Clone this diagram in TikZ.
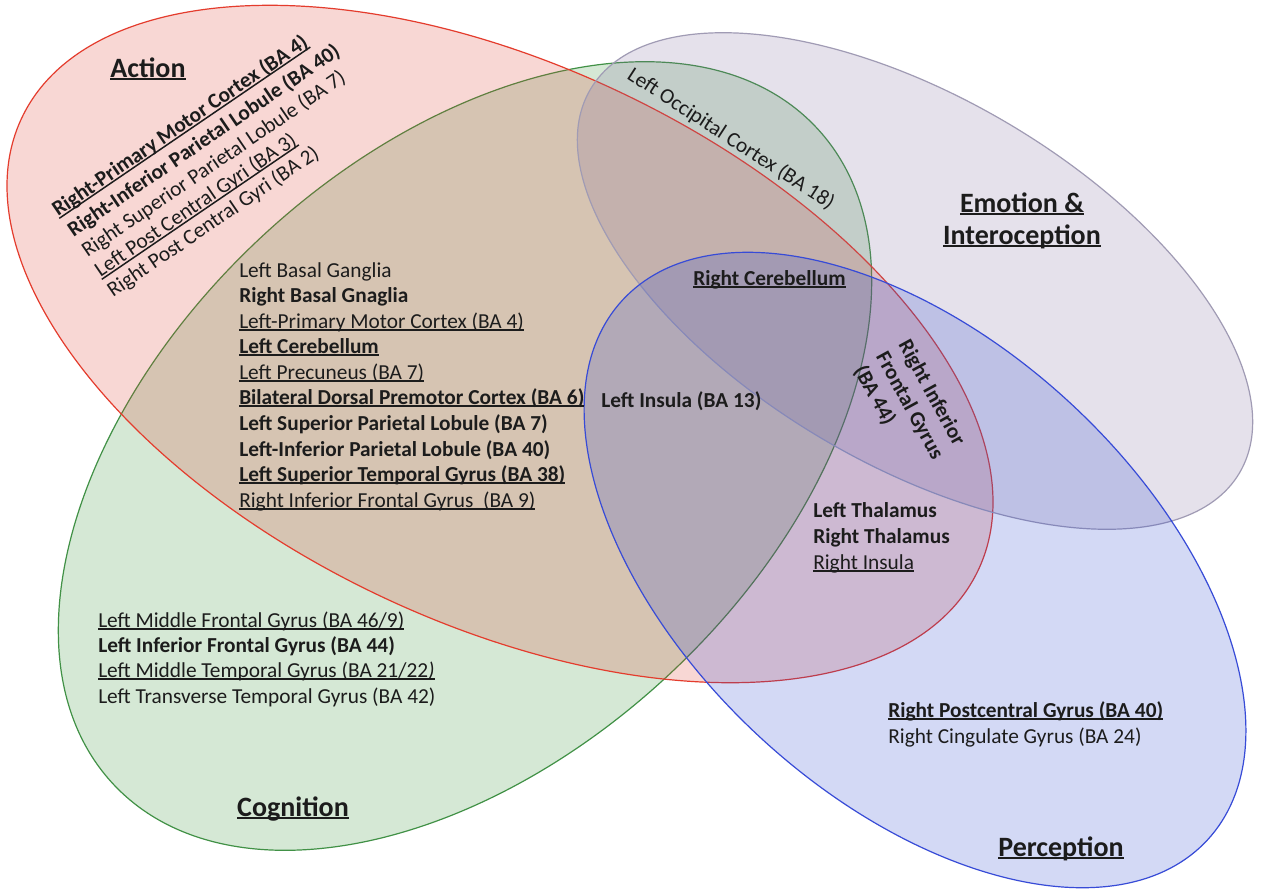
\documentclass[tikz,border=0pt]{standalone}
\usepackage{fontspec}
\setmainfont{Carlito}
\definecolor{txt}{RGB}{28,28,28}
\definecolor{redf}{RGB}{220,55,40}
\definecolor{reds}{RGB}{228,60,45}
\definecolor{greenf}{RGB}{45,140,45}
\definecolor{greens}{RGB}{65,145,70}
\definecolor{bluef}{RGB}{35,65,205}
\definecolor{blues}{RGB}{55,75,215}
\definecolor{purf}{RGB}{125,105,155}
\definecolor{purs}{RGB}{160,155,180}
\newsavebox\ulbx
\newcommand\ulx[1]{\sbox\ulbx{#1}\rlap{\rule[-0.12em]{\wd\ulbx}{0.07em}}\usebox\ulbx}
\tikzset{
  body/.style={anchor=base west, inner sep=0pt, text=txt, font=\fontsize{16}{19}\selectfont},
  bodyb/.style={anchor=base west, inner sep=0pt, text=txt, font=\fontsize{16}{19}\selectfont\bfseries},
  titletxt/.style={anchor=base, inner sep=0pt, text=txt, font=\fontsize{21}{25}\selectfont\bfseries},
  venn/.style={line width=0.9pt, fill opacity=0.2},
}
\begin{document}
\begin{tikzpicture}[x=0.75pt,y=-0.75pt]
\fill[white] (0,0) rectangle (1262,893);
\useasboundingbox (0,0) rectangle (1262,893);
% ellipses
\draw[venn, draw=greens, fill=greenf, rotate around={43:(465,456)}] (465,456) ellipse [x radius=481, y radius=299];
\draw[venn, draw=reds, fill=redf, rotate around={-25.3:(500,344)}] (500,344) ellipse [x radius=529, y radius=279];
\draw[venn, draw=purs, fill=purf, rotate around={-30.6:(915,281)}] (915,281) ellipse [x radius=377, y radius=183];
\draw[venn, draw=blues, fill=bluef, rotate around={-42.7:(915,570)}] (915,570) ellipse [x radius=398, y radius=228];
% titles
\node[titletxt] (tAction) at (148,77) {\ulx{Action}};
\node[titletxt] (tEmo1) at (1022,212) {\ulx{Emotion \&}};
\node[titletxt] (tEmo2) at (1022,244) {\ulx{Interoception}};
\node[titletxt] (tCog) at (293,816) {\ulx{Cognition}};
\node[titletxt] (tPer) at (1061,856) {\ulx{Perception}};
% action rotated list
\node[bodyb, rotate=34.3] (a1) at (58,217) {\ulx{Right-Primary Motor Cortex (BA 4)}};
\node[bodyb, rotate=34.3] (a2) at (73.5,237.5) {Right-Inferior Parietal Lobule (BA 40)};
\node[body, rotate=34.3] (a3) at (87.5,258) {Right Superior Parietal Lobule (BA 7)};
\node[body, rotate=34.3] (a4) at (100.5,278) {\ulx{Left Post Central Gyri (BA 3)}};
\node[body, rotate=34.3] (a5) at (113,298) {Right Post Central Gyri (BA 2)};
% central list
\node[body] (c1) at (239,277) {Left Basal Ganglia};
\node[bodyb] (c2) at (239,302) {Right Basal Gnaglia};
\node[body] (c3) at (239,328) {\ulx{Left-Primary Motor Cortex (BA 4)}};
\node[bodyb] (c4) at (239,353) {\ulx{Left Cerebellum}};
\node[body] (c5) at (239,379) {\ulx{Left Precuneus (BA 7)}};
\node[bodyb] (c6) at (239,404) {\ulx{Bilateral Dorsal Premotor Cortex (BA 6)}};
\node[bodyb] (c7) at (239,430) {Left Superior Parietal Lobule (BA 7)};
\node[bodyb] (c8) at (239,456) {Left-Inferior Parietal Lobule (BA 40)};
\node[bodyb] (c9) at (239,481) {\ulx{Left Superior Temporal Gyrus (BA 38)}};
\node[body] (c10) at (239,507) {\ulx{Right Inferior Frontal Gyrus\ \ (BA 9)}};
% cognition list
\node[body] (g1) at (98,627) {\ulx{Left Middle Frontal Gyrus (BA 46/9)}};
\node[bodyb] (g2) at (98,652) {Left Inferior Frontal Gyrus (BA 44)};
\node[body] (g3) at (98,677) {\ulx{Left Middle Temporal Gyrus (BA 21/22\textit{)}}};
\node[body] (g4) at (98,703) {Left Transverse Temporal Gyrus (BA 42)};
% other labels
\node[body, rotate=-33] (occ) at (626,78) {Left Occipital Cortex (BA 18)};
\node[bodyb] (rcer) at (693,285) {\ulx{Right Cerebellum}};
\node[bodyb] (lins) at (601,407) {Left Insula (BA 13)};
\node[bodyb, rotate=-61.3] (rifg1) at (898,344.5) {Right Inferior};
\node[bodyb, rotate=-61.3] (rifg2) at (875.6,356.7) {Frontal Gyrus};
\node[bodyb, rotate=-61.3] (rifg3) at (853.5,370) {(BA 44)};
\node[bodyb] (th1) at (813,517) {Left Thalamus};
\node[bodyb] (th2) at (813,543) {Right Thalamus};
\node[body] (rins) at (813,569) {\ulx{Right Insula}};
\node[bodyb] (p1) at (888,717) {\ulx{Right Postcentral Gyrus (BA 40)}};
\node[body] (p2) at (888,743) {Right Cingulate Gyrus (BA 24)};
\end{tikzpicture}
\end{document}
